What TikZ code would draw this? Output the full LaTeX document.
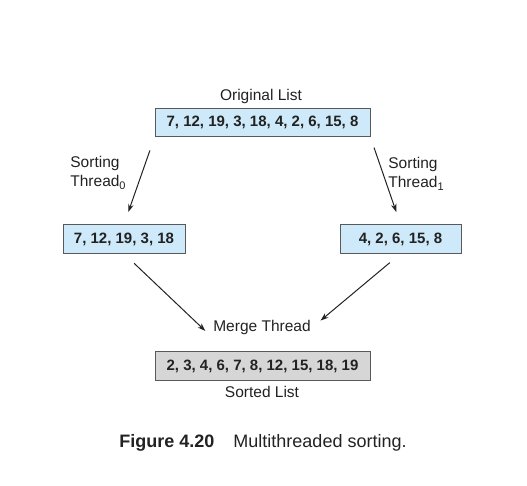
\documentclass[tikz,border=0pt]{standalone}
\usepackage{fontspec}
\setmainfont{Liberation Sans}
\usetikzlibrary{arrows.meta}
\definecolor{listblue}{RGB}{206,233,249}
\definecolor{listgray}{RGB}{214,214,214}
\definecolor{ink}{RGB}{34,34,34}
\newcommand{\thr}[1]{Thread\raisebox{-3pt}{\fontsize{11}{11}\selectfont #1}}

\begin{document}
\begin{tikzpicture}[x=1pt,y=-1pt,
  every node/.style={text=ink,font=\fontsize{15.5}{19}\selectfont},
  list/.style={rectangle,draw=ink!75,line width=0.9pt,minimum height=28.5pt,
    inner sep=0pt,font=\fontsize{15}{19}\selectfont\bfseries},
  thread/.style={draw=ink,line width=1pt,-{Stealth[length=8pt,width=5.5pt]}}]
\useasboundingbox (0,0) rectangle (527,486);
\node at (262.5,122.5) (orig)   [list,fill=listblue,minimum width=215pt] {7, 12, 19, 3, 18, 4, 2, 6, 15, 8};
\node at (124,239)     (left)   [list,fill=listblue,minimum width=122pt] {7, 12, 19, 3, 18};
\node at (400.5,239)   (right)  [list,fill=listblue,minimum width=121pt] {4, 2, 6, 15, 8};
\node at (262.5,366)   (sorted) [list,fill=listgray,minimum width=215pt] {2, 3, 4, 6, 7, 8, 12, 15, 18, 19};
\node at (261,96)  (origname)   {Original List};
\node at (262,392) (sortedname) {Sorted List};
\node at (262,327) (merge) [inner sep=2pt] {Merge Thread};
\node at (98,173)  (sort0) [align=left] {Sorting\\\thr{0}};
\node at (416,174) (sort1) [align=left] {Sorting\\\thr{1}};
\node at (263,443) (caption) [font=\fontsize{18}{21}\selectfont]
  {\textbf{Figure 4.20}\hspace{19pt}Multithreaded sorting.};
\draw [thread,shorten <=14pt,shorten >=13pt] (orig.south west) -- (left.north);
\draw [thread,shorten <=11pt,shorten >=13pt] (orig.south east) -- (right.north);
\draw [thread,shorten <=14pt,shorten >=8pt] (left.south) -- (merge.south west);
\draw [thread,shorten <=14pt,shorten >=10pt] (right.south) -- (merge.east);
\end{tikzpicture}
\end{document}
